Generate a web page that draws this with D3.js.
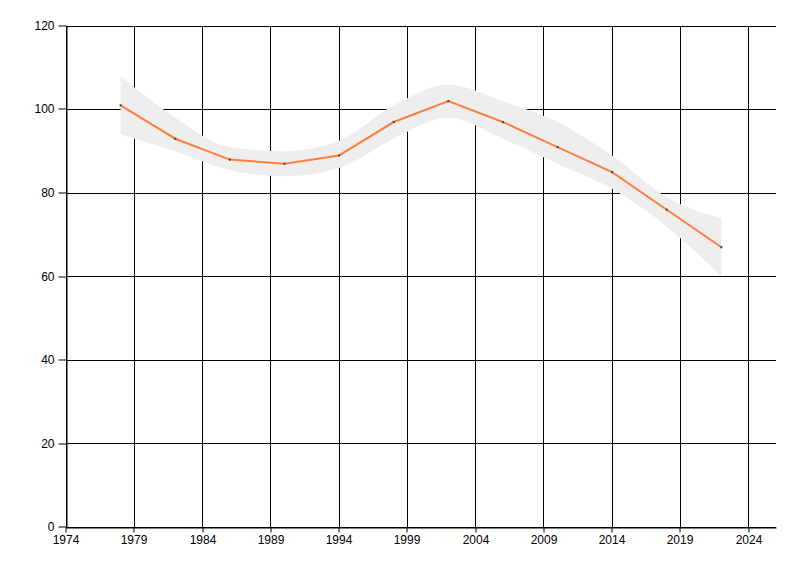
<!DOCTYPE html>
<html><head><meta charset="utf-8">
<script src="https://cdn.jsdelivr.net/npm/d3@7"></script>
<style>body{margin:0;background:#fff}svg{display:block}</style>
</head><body>
<svg id="c" width="800" height="576"></svg>
<script>
const years = [1978,1982,1986,1990,1994,1998,2002,2006,2010,2014,2018,2022];
const values = [101,93,88,87,89,97,102,97,91,85,76,67];
const upper = [108,98,91,90,92.5,101,106,102,97,89,79,74];
const lower = [94,90,85.5,84,86,93,98,93,87,81,72,60];
const xTicks = [1974,1979,1984,1989,1994,1999,2004,2009,2014,2019,2024];
const yTicks = [0,20,40,60,80,100,120];

const svg = d3.select('#c');
const L = 66, R = 776, T = 26, B = 527;
const x = d3.scaleLinear().domain([1974,2026]).range([L,R]);
const y = d3.scaleLinear().domain([0,120]).range([B,T]);
const px = v => Math.floor(v)+0.5;

// grid
svg.append('g').selectAll('line').data(xTicks).join('line')
  .attr('x1',d=>px(x(d))).attr('x2',d=>px(x(d)))
  .attr('y1',T).attr('y2',B).attr('stroke','#000').attr('stroke-width',1);
svg.append('g').selectAll('line').data(yTicks).join('line')
  .attr('x1',L).attr('x2',R)
  .attr('y1',d=>px(y(d))).attr('y2',d=>px(y(d)))
  .attr('stroke','#000').attr('stroke-width',1);

// band
const band = years.map((yr,i)=>({yr,u:upper[i],l:lower[i]}));
svg.append('path').datum(band)
  .attr('d', d3.area().x(d=>x(d.yr)).y0(d=>y(d.l)).y1(d=>y(d.u)).curve(d3.curveMonotoneX))
  .attr('fill','#eeeeee');

// line
const pts = years.map((yr,i)=>({yr,v:values[i]}));
svg.append('path').datum(pts)
  .attr('d', d3.line().x(d=>x(d.yr)).y(d=>y(d.v)))
  .attr('fill','none').attr('stroke','#ff7f41').attr('stroke-width',2);
svg.append('g').selectAll('rect').data(pts).join('rect')
  .attr('x',d=>x(d.yr)-1).attr('y',d=>y(d.v)-1).attr('width',2).attr('height',2)
  .attr('fill','#444');

// axes
const font = 'Liberation Sans, Arial, sans-serif';
const ya = svg.append('g').attr('transform',`translate(${L+0.5},0)`)
  .call(d3.axisLeft(y).tickValues(yTicks).tickSize(8).tickSizeOuter(0).tickPadding(4));
const xa = svg.append('g').attr('transform',`translate(0,${B+0.5})`)
  .call(d3.axisBottom(x).tickValues(xTicks).tickFormat(d3.format('d')).tickSize(5).tickSizeOuter(0).tickPadding(3));
[ya,xa].forEach(g=>{
  g.selectAll('path.domain').attr('stroke','#000');
  g.selectAll('.tick line').attr('stroke','#000');
  g.selectAll('.tick').attr('transform', function(){
    const t = d3.select(this).attr('transform');
    return t.replace(/translate\(([^,]+),([^)]+)\)/, (m,a,b)=>
      g===ya ? `translate(0,${Math.floor(+b)})` : `translate(${Math.floor(+a)},0)`);
  });
  g.selectAll('text').attr('fill','#000').style('font-family',font).style('font-size','12px');
});
</script>
</body></html>
